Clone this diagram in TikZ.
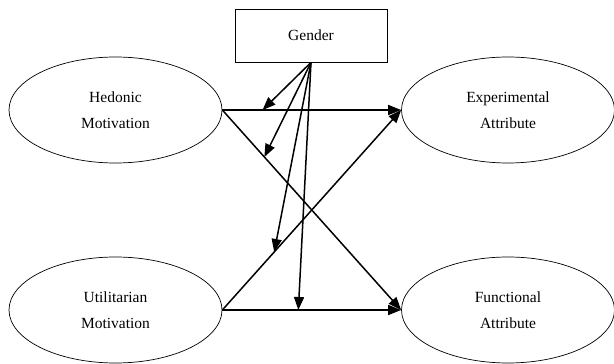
\documentclass[tikz,border=0pt]{standalone}
\usepackage{fontspec}
\setmainfont{Liberation Serif}
\usetikzlibrary{shapes.geometric,arrows.meta}
\begin{document}
\begin{tikzpicture}[x=1pt,y=-1pt,
  construct/.style={ellipse,draw,line width=0.7pt,minimum width=213pt,minimum height=106pt,inner sep=0pt,align=center,font=\fontsize{15.5}{26}\selectfont},
  genbox/.style={rectangle,draw,line width=0.8pt,minimum width=152pt,minimum height=53pt,inner sep=0pt,font=\fontsize{15.5}{18}\selectfont},
  link/.style={line width=1.5pt,-{Triangle[length=13pt,width=10pt]}}]
\useasboundingbox (0,0) rectangle (614,364);
\node[genbox] (gen) at (311,35.5) {Gender};
\node[construct] (hed) at (115.5,110) {Hedonic\\Motivation};
\node[construct] (uti) at (115.5,310) {Utilitarian\\Motivation};
\node[construct] (exp) at (508,110) {Experimental\\Attribute};
\node[construct] (fun) at (508,310) {Functional\\Attribute};
\draw[link] (hed.east) -- coordinate[pos=0.225] (m1) (exp.west);
\draw[link] (hed.east) -- coordinate[pos=0.235] (m2) (fun.west);
\draw[link] (uti.east) -- coordinate[pos=0.29] (m3) (exp.west);
\draw[link] (uti.east) -- coordinate[pos=0.425] (m4) (fun.west);
\draw[link] (gen.south) -- (m1);
\draw[link] (gen.south) -- (m2);
\draw[link] (gen.south) -- (m3);
\draw[link] (gen.south) -- (m4);
\end{tikzpicture}
\end{document}
